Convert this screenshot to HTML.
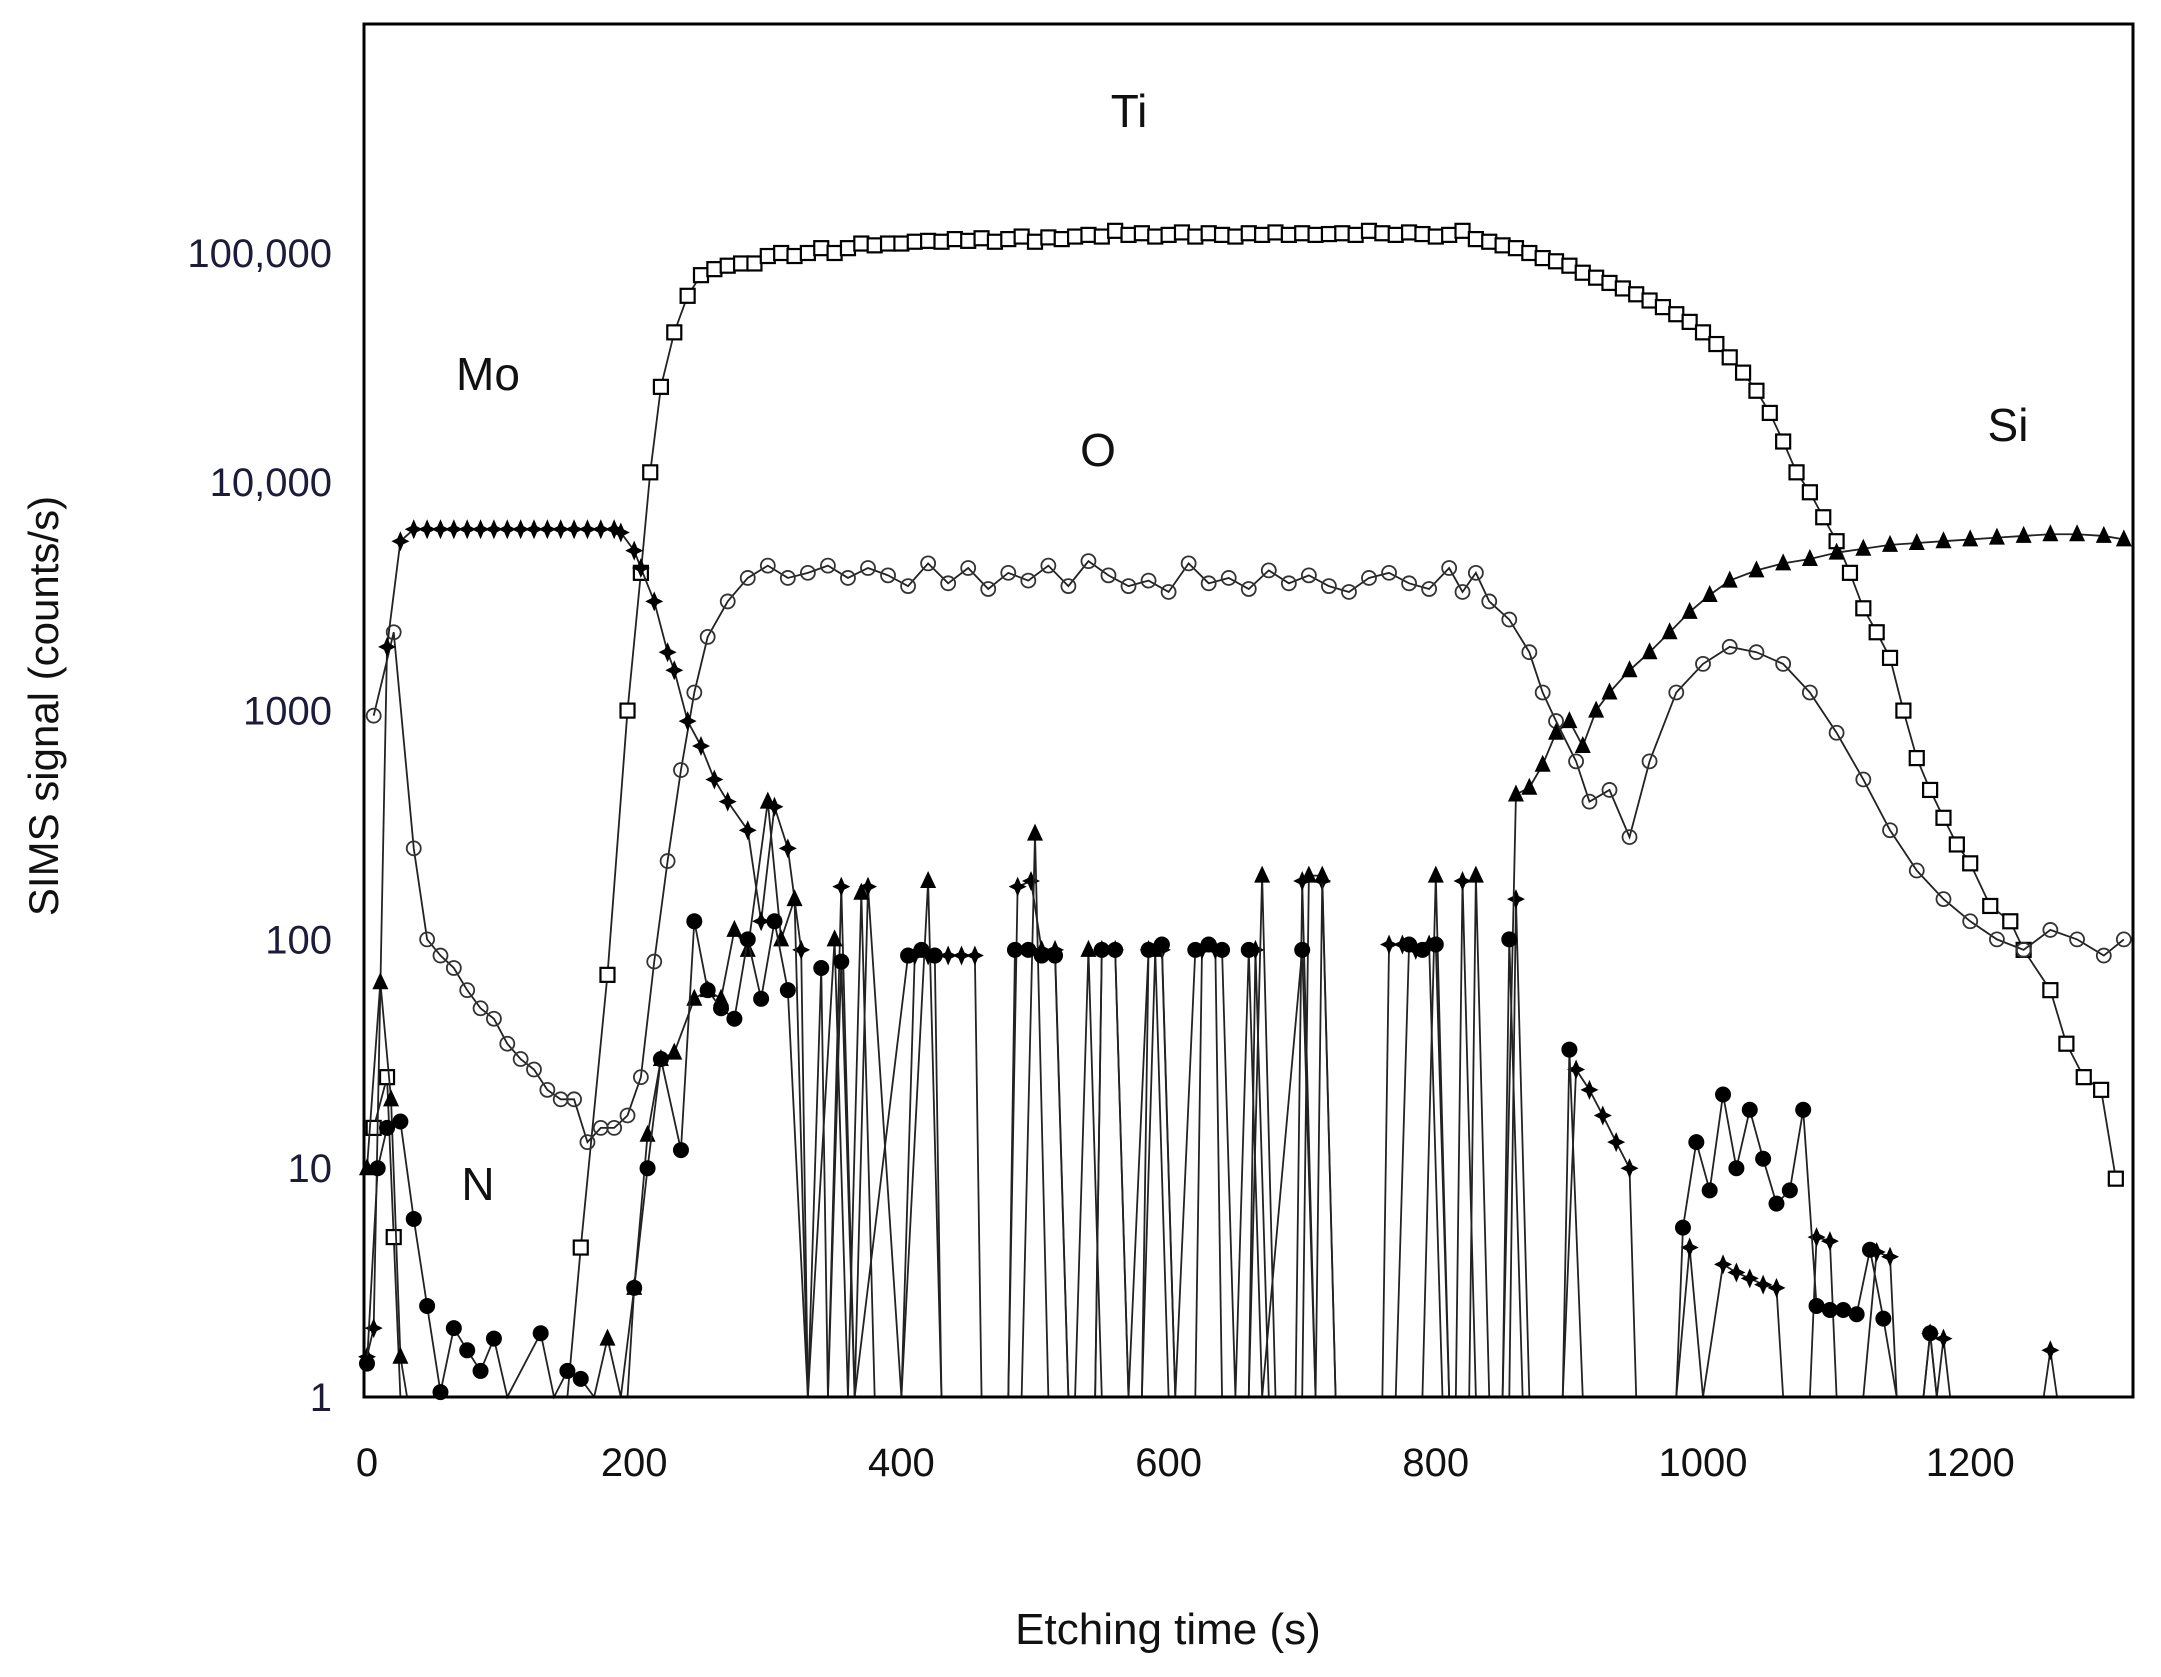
<!DOCTYPE html>
<html><head><meta charset="utf-8">
<style>
html,body{margin:0;padding:0;background:#fff}
svg{display:block}
text{font-family:"Liberation Sans",sans-serif;fill:#111}
</style></head>
<body>
<svg id="chart" width="2161" height="1677" viewBox="0 0 2161 1677">
<rect x="0" y="0" width="2161" height="1677" fill="#fff"/>
<g id="series"></g>
<rect x="364" y="24" width="1769" height="1373" fill="none" stroke="#000" stroke-width="3"/>
<g id="axes"></g>
<text x="58" y="706" transform="rotate(-90 58 706)" text-anchor="middle" font-size="42">SIMS  signal (counts/s)</text>
<text x="1168" y="1644" text-anchor="middle" font-size="44">Etching time (s)</text>
<text x="1129" y="127" text-anchor="middle" font-size="46">Ti</text>
<text x="488" y="390" text-anchor="middle" font-size="46">Mo</text>
<text x="1098" y="466" text-anchor="middle" font-size="46">O</text>
<text x="2008" y="441" text-anchor="middle" font-size="46">Si</text>
<text x="478" y="1200" text-anchor="middle" font-size="46">N</text>
</svg>
<script>
const xTicks=[0,200,400,600,800,1000,1200];
const yTicks=[1,10,100,1000,10000,100000];
const yTickLabels=["1","10","100","1000","10,000","100,000"];

const tTi=[5,15,20,25,150,160,180,195,205,212,220,230,240,250,260,270,280,290,300,
310,320,330,340,350,360,370,380,390,400,410,420,430,440,450,460,470,480,490,500,510,520,530,540,550,560,570,580,590,600,610,620,630,640,650,660,670,680,690,700,710,720,730,740,750,760,770,780,790,800,810,820,
830,840,850,860,870,880,890,900,910,920,930,940,950,960,970,980,990,1000,1010,1020,1030,1040,1050,1060,1070,1080,1090,
1100,1110,1120,1130,1140,1150,1160,1170,1180,1190,1200,1215,1230,1240,1260,1272,1285,1298,1309];
const vTi=[15,25,5,0,0,4.5,70,1000,4000,11000,26000,45000,65000,80000,85000,88000,90000,90000,97000,
100000,97000,100000,105000,100000,105000,110000,108000,110000,110000,112000,113000,112000,115000,113000,116000,112000,115000,118000,112000,117000,115000,118000,120000,118000,125000,120000,122000,118000,120000,123000,118000,122000,120000,118000,122000,120000,123000,120000,122000,120000,121000,122000,120000,125000,122000,120000,123000,121000,118000,120000,125000,
115000,112000,108000,105000,100000,95000,92000,88000,82000,78000,74000,70000,66000,62000,58000,54000,50000,45000,40000,35000,30000,25000,20000,15000,11000,9000,7000,
5500,4000,2800,2200,1700,1000,620,450,340,260,215,140,120,90,60,35,25,22,9];

const tO=[5,20,35,45,55,65,75,85,95,105,115,125,135,145,155,165,175,185,195,205,215,225,235,245,255,270,285,300,315,330,345,360,375,390,405,420,435,450,465,480,495,510,525,540,555,570,585,600,615,630,645,660,675,690,705,720,735,750,765,780,795,810,820,830,840,855,870,880,890,905,915,930,945,960,980,1000,1020,1040,1060,1080,1100,1120,1140,1160,1180,1200,1220,1240,1260,1280,1300,1315];
const vO=[950,2200,250,100,85,75,60,50,45,35,30,27,22,20,20,13,15,15,17,25,80,220,550,1200,2100,3000,3800,4300,3800,4000,4300,3800,4200,3900,3500,4400,3600,4200,3400,4000,3700,4300,3500,4500,3900,3500,3700,3300,4400,3600,3800,3400,4100,3600,3900,3500,3300,3800,4000,3600,3400,4200,3300,4000,3000,2500,1800,1200,900,600,400,450,280,600,1200,1600,1900,1800,1600,1200,800,500,300,200,150,120,100,90,110,100,85,100];

const tMo=[0,5,15,25,35,45,55,65,75,85,95,105,115,125,135,145,155,165,175,185,190,200,205,215,225,230,240,250,260,270,285,295,305,315,325,330,345,355,365,375,400,410,420,435,445,455,460,480,487,497,505,515,525,545,550,560,570,580,585,595,605,620,625,635,640,660,665,675,695,700,710,715,725,760,765,775,785,795,805,815,820,830,855,860,870,895,905,915,925,935,945,950,980,990,1000,1015,1025,1035,1045,1055,1060,1080,1085,1095,1100,1120,1130,1140,1145,1165,1170,1175,1180,1185,1255,1260,1265];
const vMo=[1.5,2,1900,5500,6200,6200,6200,6200,6200,6200,6200,6200,6200,6200,6200,6200,6200,6200,6200,6200,6000,5000,4200,3000,1800,1500,900,700,500,400,300,120,380,250,90,0,0,170,0,170,0,85,85,85,85,85,0,0,170,180,90,90,0,0,90,90,0,0,90,90,0,0,90,90,0,0,90,0,0,180,0,180,0,0,95,95,90,95,0,0,180,0,0,150,0,0,27,22,17,13,10,0,0,4.5,0,3.8,3.5,3.3,3.1,3,0,0,5,4.8,0,0,4.3,4.1,0,0,1.9,0,1.8,0,0,1.6,0];

const tSi=[0,10,18,25,30,170,180,190,195,200,210,220,230,245,255,265,275,285,300,310,320,330,350,360,370,380,400,420,430,490,500,510,530,540,550,580,590,600,660,670,680,700,705,715,725,790,800,810,825,830,840,850,860,870,880,890,900,910,920,930,945,960,975,990,1005,1020,1040,1060,1080,1100,1120,1140,1160,1180,1200,1220,1240,1260,1280,1300,1315];
const vSi=[10,65,20,1.5,0,0,1.8,0,0,3,14,30,32,55,60,55,110,90,400,100,150,0,100,0,160,0,0,180,0,0,290,0,0,90,0,0,90,0,0,190,0,0,190,190,0,0,190,0,0,190,0,0,430,460,580,800,900,700,1000,1200,1500,1800,2200,2700,3200,3700,4100,4400,4600,4900,5100,5300,5400,5500,5600,5700,5800,5900,5900,5800,5600];

const tN=[0,8,15,25,35,45,55,65,75,85,95,105,130,140,150,160,170,190,200,210,220,235,245,255,265,275,285,295,305,315,330,340,345,355,365,405,415,425,430,480,485,495,505,515,525,545,550,560,570,585,595,605,620,630,640,650,660,670,700,710,770,780,790,800,810,850,855,865,895,900,910,980,985,995,1005,1015,1025,1035,1045,1055,1065,1075,1085,1095,1105,1115,1125,1135,1145,1165,1170,1175];
const vN=[1.4,10,15,16,6,2.5,1.05,2,1.6,1.3,1.8,0,1.9,0,1.3,1.2,0,0,3,10,30,12,120,60,50,45,100,55,120,60,0,75,0,80,0,85,90,85,0,0,90,90,85,85,0,0,90,90,0,90,95,0,90,95,90,0,90,0,90,0,0,95,90,95,0,0,100,0,0,33,0,0,5.5,13,8,21,10,18,11,7,8,18,2.5,2.4,2.4,2.3,4.4,2.2,0,0,1.9,0];

const X0=367, PXS=1.336, YB=1397, DEC=228.8;
function xs(t){return X0+t*PXS;}
function ys(v){return v<1?YB:YB-Math.log10(v)*DEC;}
const NS="http://www.w3.org/2000/svg";
const axes=document.getElementById('axes');
const layer=document.getElementById('series');

xTicks.forEach(t=>{
  const tx=document.createElementNS(NS,'text');
  tx.setAttribute('x',xs(t));tx.setAttribute('y',1476);
  tx.setAttribute('text-anchor','middle');tx.setAttribute('font-size','40');
  tx.textContent=t;
  
  
  axes.appendChild(tx);
});
yTicks.forEach((v,i)=>{
  const tx=document.createElementNS(NS,'text');
  tx.setAttribute('x',332);tx.setAttribute('y',ys(v)+14);
  tx.setAttribute('text-anchor','end');tx.setAttribute('font-size','40');
  tx.setAttribute('style','fill:#1c1c3a');
  tx.textContent=yTickLabels[i];
  
  
  axes.appendChild(tx);
});

function clipT(t){return Math.min(t,1318);}
function drawSeries(name,ts,vs,marker){
  const n=Math.min(ts.length,vs.length);
  const g=document.createElementNS(NS,'g');
  
  
  const pts=[];
  for(let i=0;i<n;i++)pts.push(xs(clipT(ts[i]))+','+ys(vs[i]));
  const pl=document.createElementNS(NS,'polyline');
  pl.setAttribute('points',pts.join(' '));
  pl.setAttribute('fill','none');pl.setAttribute('stroke','#222');pl.setAttribute('stroke-width','1.8');
  
  
  g.appendChild(pl);
  for(let i=0;i<n;i++){
    if(vs[i]<1)continue;
    const x=xs(clipT(ts[i])),y=ys(vs[i]);let m;
    if(marker==='square'){m=document.createElementNS(NS,'rect');m.setAttribute('x',x-7);m.setAttribute('y',y-7);m.setAttribute('width',14);m.setAttribute('height',14);m.setAttribute('fill','#fff');m.setAttribute('stroke','#000');m.setAttribute('stroke-width','2.2');}
    else if(marker==='ocircle'){m=document.createElementNS(NS,'circle');m.setAttribute('cx',x);m.setAttribute('cy',y);m.setAttribute('r',7);m.setAttribute('fill','none');m.setAttribute('stroke','#333');m.setAttribute('stroke-width','1.8');}
    else if(marker==='fcircle'){m=document.createElementNS(NS,'circle');m.setAttribute('cx',x);m.setAttribute('cy',y);m.setAttribute('r',8);m.setAttribute('fill','#000');}
    else if(marker==='tri'){m=document.createElementNS(NS,'polygon');m.setAttribute('points',(x-8)+','+(y+7)+' '+(x+8)+','+(y+7)+' '+x+','+(y-10));m.setAttribute('fill','#000');}
    else {m=document.createElementNS(NS,'polygon');m.setAttribute('points',x+','+(y-10)+' '+(x+3)+','+(y-3)+' '+(x+9)+','+y+' '+(x+3)+','+(y+3)+' '+x+','+(y+10)+' '+(x-3)+','+(y+3)+' '+(x-9)+','+y+' '+(x-3)+','+(y-3));m.setAttribute('fill','#000');}
    
    
    g.appendChild(m);
  }
  layer.appendChild(g);
}
drawSeries('ti',tTi,vTi,'square');
drawSeries('o',tO,vO,'ocircle');
drawSeries('mo',tMo,vMo,'star');
drawSeries('si',tSi,vSi,'tri');
drawSeries('n',tN,vN,'fcircle');
</script>
</body></html>
